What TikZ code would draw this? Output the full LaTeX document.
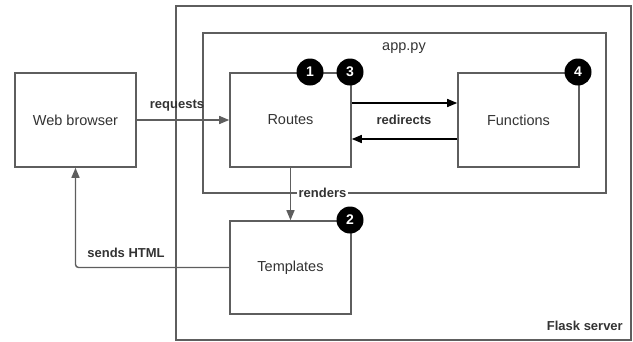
\documentclass[tikz,border=0pt]{standalone}
\usepackage{fontspec}
\setmainfont{Liberation Sans}
\usetikzlibrary{arrows.meta}
\definecolor{ln}{HTML}{5E5E5E}
\definecolor{tx}{HTML}{333333}
\begin{document}
\begin{tikzpicture}[x=1pt,y=-1pt,
  box/.style={draw=ln,line width=1.6pt,fill=white,minimum width=121pt,minimum height=94pt,inner sep=0pt,font=\fontsize{14.5}{16}\selectfont,text=tx},
  frame/.style={draw=ln,line width=1.6pt,inner sep=0pt},
  lbl/.style={font=\bfseries\fontsize{13}{15}\selectfont,text=tx,inner sep=1pt},
  conn/.style={draw=ln,line width=1.4pt,-{Triangle[length=10pt,width=8pt]}},
  bconn/.style={draw=black,line width=1.4pt,-{Triangle[length=10pt,width=8pt]}},
  num/.style={circle,fill=black,minimum size=27pt,inner sep=0pt,text=white,font=\bfseries\fontsize{14}{16}\selectfont}]
\useasboundingbox (0,0) rectangle (633,341);
% frames
\node[frame,minimum width=455pt,minimum height=334pt] (flask) at (403.5,173) {};
\node[frame,minimum width=403pt,minimum height=160pt] (app) at (404.5,113) {};
\node[font=\fontsize{14.5}{16}\selectfont,text=tx] (applbl) at (404,48) {app.py};
\node[lbl,anchor=east] (flasklbl) at (624,326) {Flask server};
% boxes
\node[box] (web) at (75.5,120) {Web browser};
\node[box] (routes) at (290.5,120) {Routes};
\node[box] (func) at (518.5,120) {Functions};
\node[box,minimum height=93pt] (tmpl) at (290.5,267.5) {Templates};
% connectors
\draw[conn] (web.east) -- (routes.west);
\node[lbl] (reqlbl) at (177,106) {requests};
\draw[bconn] ([yshift=17pt]routes.east) -- ([yshift=17pt]func.west);
\draw[bconn] ([yshift=-19pt]func.west) -- ([yshift=-19pt]routes.east);
\node[lbl] (redlbl) at (404,120) {redirects};
\node[lbl,fill=white,inner sep=2pt] (renlbl) at (322.5,193) {renders};
\draw[conn] (routes.south) -- (tmpl.north);
\draw[conn,rounded corners=3pt] (tmpl.west) -| (web.south);
\node[lbl] (sendlbl) at (126,253) {sends HTML};
% numbers
\node[num] (n1) at (310,72) {1};
\node[num] (n3) at (350,72) {3};
\node[num] (n4) at (578,72) {4};
\node[num] (n2) at (350,220) {2};
\end{tikzpicture}
\end{document}
